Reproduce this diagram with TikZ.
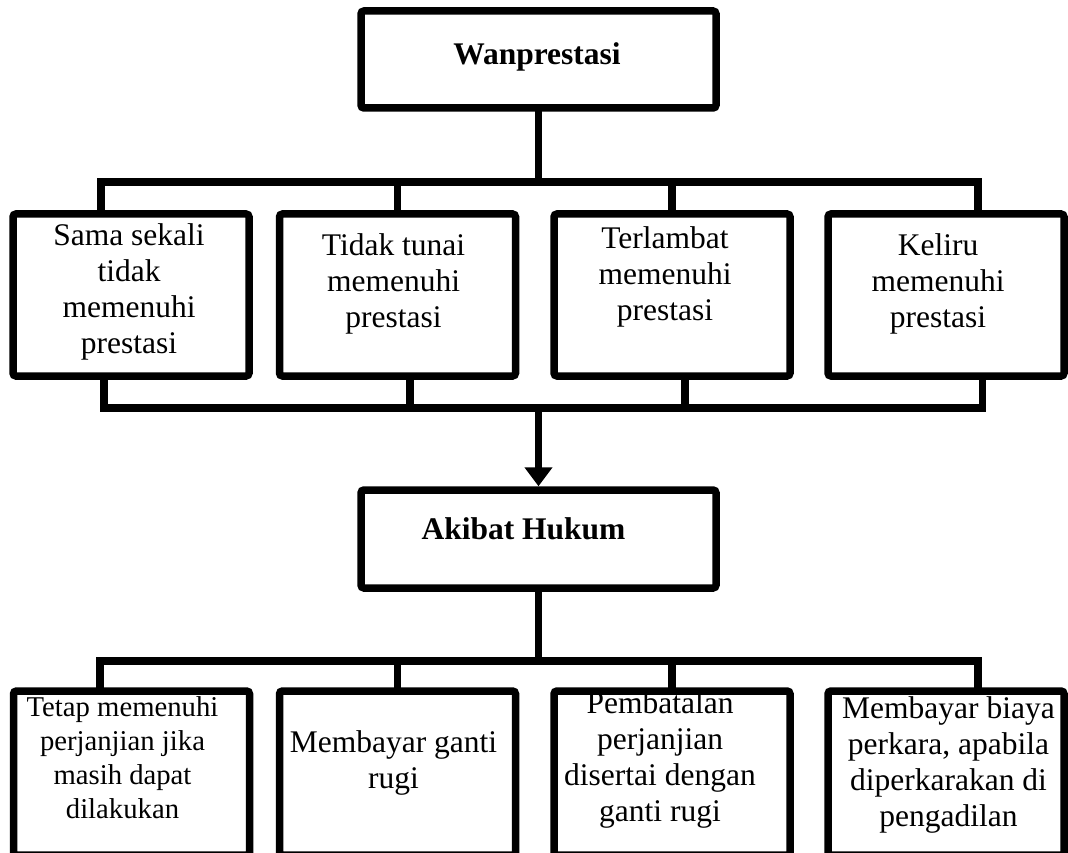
\documentclass[tikz,border=0pt]{standalone}
\usepackage{fontspec}
\setmainfont{Liberation Serif}
\usetikzlibrary{arrows.meta}
% #1 width, #2 height, #3 top skip, #4 leftskip, #5 rightskip, #6 text
\newcommand{\cellbox}[6]{\begin{minipage}[c][#2][t]{#1}\vspace*{#3}\centering\leftskip=#4 plus 1fil\rightskip=#5 plus 1fil\strut #6\end{minipage}}
\begin{document}
\begin{tikzpicture}[x=1pt,y=-1pt,
  bx/.style={draw=black, line width=7.5pt, rounded corners=3pt, inner sep=0pt, outer sep=0pt, fill=white},
  ln/.style={draw=black, line width=7.5pt},
  txt/.style={font=\fontsize{31.5}{36}\selectfont},
  smtxt/.style={font=\fontsize{28.7}{33.7}\selectfont},
  btxt/.style={font=\fontsize{31.5}{36}\selectfont\bfseries}]
\useasboundingbox (0,0) rectangle (1068,853);

% top
\node[bx,btxt] (wan) at (538.5,59.5) {\cellbox{355pt}{97pt}{28.8pt}{0pt}{3pt}{Wanprestasi}};

% row 1
\node[bx,txt] (a1) at (131,295) {\cellbox{236pt}{162pt}{5.8pt}{0pt}{4pt}{Sama sekali\\tidak\\memenuhi\\prestasi}};
\node[bx,txt] (a2) at (397.5,295) {\cellbox{236pt}{162pt}{15.8pt}{0pt}{8pt}{Tidak tunai\\memenuhi\\prestasi}};
\node[bx,txt] (a3) at (672,295) {\cellbox{236pt}{162pt}{8.8pt}{0pt}{14pt}{Terlambat\\memenuhi\\prestasi}};
\node[bx,txt] (a4) at (946,295) {\cellbox{236pt}{162pt}{15.8pt}{0pt}{16pt}{Keliru\\memenuhi\\prestasi}};

% middle
\node[bx,btxt] (ak) at (538.5,539) {\cellbox{355pt}{98pt}{23.8pt}{0pt}{30pt}{Akibat Hukum}};

% row 2
\node[bx,smtxt] (r1) at (131.5,773) {\cellbox{236pt}{164pt}{2.4pt}{0pt}{18pt}{Tetap memenuhi\\perjanjian jika\\masih dapat\\dilakukan}};
\node[bx,txt] (r2) at (397.5,773) {\cellbox{236pt}{164pt}{35.8pt}{0pt}{8pt}{Membayar ganti\\rugi}};
\node[bx,txt] (r3) at (672,773) {\cellbox{236pt}{164pt}{-3.2pt}{0pt}{24pt}{Pembatalan\\perjanjian\\disertai dengan\\ganti rugi}};
\node[bx,txt] (r4) at (946,773) {\cellbox{236pt}{164pt}{1.8pt}{5pt}{0pt}{Membayar biaya\\perkara, apabila\\diperkarakan di\\pengadilan}};

% top bus
\coordinate (bt) at (538.5,182);
\coordinate (t1) at (101,182);
\coordinate (t2) at (397.5,182);
\coordinate (t3) at (672,182);
\coordinate (t4) at (978,182);
\draw[ln] (wan.south) -- (bt);
\draw[ln] (t1 |- a1.north) -- (t1) -- (t4) -- (t4 |- a4.north);
\draw[ln] (t2) -- (t2 |- a2.north);
\draw[ln] (t3) -- (t3 |- a3.north);

% bottom bus of row 1
\coordinate (bm) at (538.5,408);
\coordinate (b1) at (104,408);
\coordinate (b2) at (410,408);
\coordinate (b3) at (685,408);
\coordinate (b4) at (982.5,408);
\draw[ln] (b1 |- a1.south) -- (b1) -- (b4) -- (b4 |- a4.south);
\draw[ln] (b2 |- a2.south) -- (b2);
\draw[ln] (b3 |- a3.south) -- (b3);
\draw[ln,-{Triangle[width=27pt,length=19pt]},shorten >=3.75pt] (bm) -- (ak.north);

% lower bus
\coordinate (lb) at (538.5,661);
\coordinate (c1) at (100,661);
\coordinate (c2) at (397.5,661);
\coordinate (c3) at (672,661);
\coordinate (c4) at (978,661);
\draw[ln] (ak.south) -- (lb);
\draw[ln] (c1 |- r1.north) -- (c1) -- (c4) -- (c4 |- r4.north);
\draw[ln] (c2) -- (c2 |- r2.north);
\draw[ln] (c3) -- (c3 |- r3.north);
\end{tikzpicture}
\end{document}
